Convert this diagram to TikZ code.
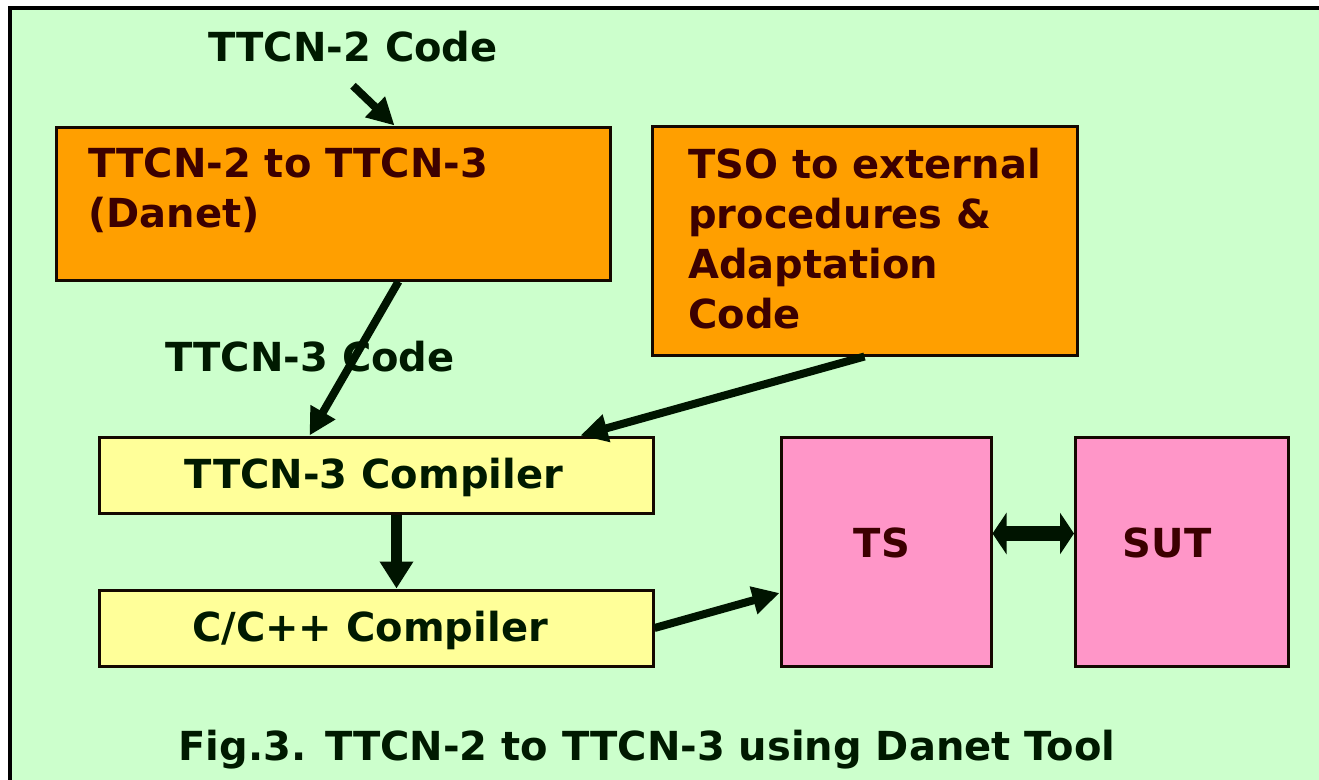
\documentclass[tikz,border=0pt]{standalone}
\usepackage{fontspec}
\setmainfont{DejaVu Sans}
\usetikzlibrary{arrows.meta,calc}
\definecolor{bggreen}{HTML}{CCFFCC}
\definecolor{orangebox}{HTML}{FF9F00}
\definecolor{yellowbox}{HTML}{FFFF99}
\definecolor{pinkbox}{HTML}{FF96C8}
\definecolor{darktext}{HTML}{001A00}
\definecolor{maroontext}{HTML}{3C0000}
\definecolor{edgec}{HTML}{140800}
\definecolor{arrowc}{HTML}{001400}
\begin{document}
\begin{tikzpicture}[x=1bp,y=-1bp,
  box/.style={draw=edgec, line width=3bp, inner sep=0pt, rectangle},
  lbl/.style={inner sep=0pt, font=\fontsize{40bp}{50bp}\selectfont\bfseries, text=darktext},
  olbl/.style={lbl, text=maroontext, align=left, anchor=north west},
  arr/.style={draw=arrowc, line width=8bp, -{Triangle[length=27bp,width=27bp]}},
  varr/.style={draw=arrowc, line width=11bp, -{Triangle[length=27bp,width=32bp]}},
  dbl/.style={draw=arrowc, line width=15bp, {Triangle[length=14bp,width=41bp]}-{Triangle[length=14bp,width=41bp]}}
]
\useasboundingbox (0,0) rectangle (1319,779);
\clip (0,0) rectangle (1319,779);
\fill[white] (0,0) rectangle (1319,779);
\draw[line width=4bp, draw=black, fill=bggreen] (10,8) rectangle (1345,805);

% boxes
\node[box, fill=orangebox, minimum width=553bp, minimum height=153bp] (A) at (333.5,203.5) {};
\node[box, fill=orangebox, minimum width=425bp, minimum height=228bp] (B) at (864.5,241) {};
\node[box, fill=yellowbox, minimum width=553bp, minimum height=76bp] (C3) at (376.5,475) {};
\node[box, fill=yellowbox, minimum width=553bp, minimum height=76bp] (CC) at (376.5,628) {};
\node[box, fill=pinkbox, minimum width=210bp, minimum height=229bp] (TS) at (886,551.5) {};
\node[box, fill=pinkbox, minimum width=213bp, minimum height=229bp] (SUT) at (1182,551.5) {};

% texts
\node[lbl, anchor=base] (L2) at (353,62) {TTCN-2 Code};
\node[lbl, anchor=base] (L3) at (310,371) {TTCN-3 Code};
\node[olbl] (At) at (88,148) {TTCN-2 to TTCN-3\\(Danet)};
\node[olbl] (Bt) at (688,148) {TSO to external\\procedures \&\\Adaptation\\Code};
\node[lbl, anchor=base] (C3t) at (374,488) {TTCN-3 Compiler};
\node[lbl, anchor=base] (CCt) at (370,641) {C/C++ Compiler};
\node[lbl, anchor=base, text=maroontext] (TSt) at (882,557) {TS};
\node[lbl, anchor=base, text=maroontext] (SUTt) at (1167,557) {SUT};
\node[lbl, anchor=base] (cap) at (647,760) {Fig.3. TTCN-2 to TTCN-3 using Danet Tool};

% connectors
\draw[arr] ([yshift=-23bp]L2.south) -- ([xshift=339bp]A.north west);
\draw[arr] ([xshift=343bp]A.south west) -- ([xshift=211bp]C3.north west);
\draw[arr] ([xshift=214bp]B.south west) -- ([xshift=482bp]C3.north west);
\draw[varr] ([xshift=298bp]C3.south west) -- ([xshift=298bp]CC.north west);
\draw[arr] (CC.east) -- ([yshift=-41.5bp]TS.west);
\draw[dbl] ([yshift=18bp]TS.east) -- ([yshift=18bp]SUT.west);
\end{tikzpicture}
\end{document}
